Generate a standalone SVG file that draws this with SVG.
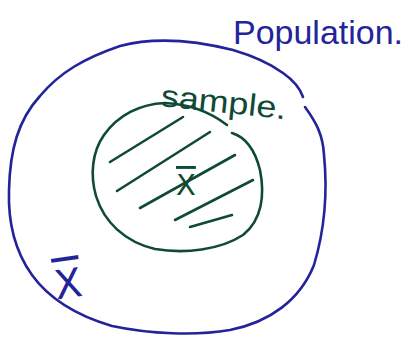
<svg xmlns="http://www.w3.org/2000/svg" width="414" height="338" viewBox="0 0 414 338">
<style>
.blue{stroke:#23239a;fill:none;stroke-width:2.6;stroke-linecap:round;stroke-linejoin:round}
.green{stroke:#0f4a36;fill:none;stroke-width:2.6;stroke-linecap:round;stroke-linejoin:round}
.tb{fill:#23239a;font-family:"Liberation Sans",Arial,sans-serif}
.tg{fill:#0f4a36;font-family:"Liberation Sans",Arial,sans-serif}
.xb{font-family:"DejaVu Sans",sans-serif;font-weight:normal;text-decoration:overline}
</style>
<rect width="414" height="338" fill="#ffffff"/>
<g id="population">
<path class="blue" d="M305,107 C316,122 323,135 324,155 C327,185 326,225 314,265 C300,300 270,322 230,330 C195,336 150,334 112,326 C78,316 50,300 32,275 C14,250 8,220 9,190 C10,150 18,120 40,96 C60,72 85,58 120,46 C150,38 185,38 233,50 C250,55 268,62 283,73 C293,80 300,88 303,97"/>
<text class="tb" x="233" y="44" font-size="34" textLength="170" lengthAdjust="spacingAndGlyphs">Population.</text>
<text class="tb xb" x="54" y="298" font-size="40" transform="rotate(-8 66 280)">X</text>
</g>
<g id="sample">
<path class="green" d="M227,125 C210,112 190,104 165,103 C140,104 118,115 104,135 C92,152 90,175 96,196 C104,222 125,242 155,249 C185,254 220,250 243,235 C262,220 265,195 260,170 C255,150 245,137 232,133"/>
<text class="tg" x="160" y="106" font-size="31" textLength="126" lengthAdjust="spacingAndGlyphs" transform="rotate(6 160 106)">sample.</text>
<text class="tg xb" x="176" y="195" font-size="29">X</text>
<g class="green">
<line x1="110" y1="162" x2="183" y2="117"/>
<line x1="117" y1="191" x2="210" y2="132"/>
<line x1="140" y1="208" x2="235" y2="155"/>
<line x1="175" y1="220" x2="253" y2="180"/>
<line x1="190" y1="227" x2="232" y2="215"/>
</g>
</g>
</svg>
